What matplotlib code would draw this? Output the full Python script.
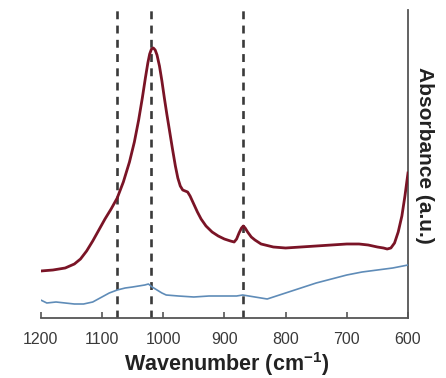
import matplotlib
matplotlib.use("Agg")
import matplotlib.pyplot as plt

plt.rcParams['font.family'] = ['Liberation Sans', 'DejaVu Sans']
plt.rcParams['mathtext.fontset'] = 'custom'
plt.rcParams['mathtext.rm'] = 'Liberation Sans:bold'
plt.rcParams['mathtext.bf'] = 'Liberation Sans:bold'
plt.rcParams['mathtext.default'] = 'bf'

# Sample spectrum (upper, red) - absorbance in arbitrary units
red_wn = [1200, 1180, 1160, 1145, 1135, 1125, 1115, 1105, 1095, 1085, 1075,
          1065, 1055, 1047, 1040, 1034, 1029, 1025, 1022, 1019, 1016, 1013,
          1010, 1006, 1002, 998, 994, 990, 985, 980, 976, 972, 968, 964,
          960, 956, 950, 944, 938, 930, 920, 910, 900, 890, 884,
          880, 876, 872, 869, 866, 862, 856, 850, 840, 820, 800, 775, 750,
          725, 700, 680, 665, 650, 640, 634, 628, 622, 616, 610, 605, 602, 600]
red_abs = [47, 48, 50, 54, 59, 67, 77, 88, 99, 109, 120,
           136, 156, 176, 198, 220, 240, 255, 264, 269, 270, 268,
           263, 252, 237, 220, 204, 189, 170, 152, 140, 132, 128, 127,
           126, 122, 114, 106, 99, 92, 86, 82, 79, 77, 76,
           79, 85, 90, 92, 90, 86, 81, 78, 74, 71, 70, 71, 72,
           73, 74, 74, 73, 71, 70, 69, 70, 75, 86, 102, 122, 136, 145]

# Reference spectrum (lower, blue)
blue_wn = [1200, 1190, 1175, 1160, 1145, 1130, 1115, 1100, 1088, 1075, 1062,
           1050, 1040, 1030, 1024, 1018, 1010, 1002, 995, 975, 950, 925, 900,
           880, 870, 860, 850, 840, 830, 815, 800, 775, 750, 725, 700,
           675, 650, 625, 600]
blue_abs = [18, 15, 16, 15, 14, 14, 16, 21, 25, 28, 30,
            31, 32, 33, 34, 31, 28, 25, 23, 22, 21, 22, 22,
            22, 23, 22, 21, 20, 19, 22, 25, 30, 35, 39, 43,
            46, 48, 50, 53]

# Marked band positions (cm-1)
band_lines = [1075, 1020, 869]

fig = plt.figure(figsize=(4.46, 3.78), dpi=100)
ax = fig.add_axes([40.7 / 446, 60 / 378, 367.3 / 446, 308 / 378])

ax.plot(red_wn, red_abs, color='#7a1426', lw=2.0, zorder=3,
        solid_joinstyle='round')
ax.plot(blue_wn, blue_abs, color='#5f8cb8', lw=1.2, zorder=3)

for wn in band_lines:
    ax.axvline(wn, color='#3a3a3a', lw=1.9, linestyle=(0, (3.0, 2.4)), zorder=2)

ax.set_xlim(1200, 600)
ax.set_ylim(0, 308)
ax.set_xticks([1200, 1100, 1000, 900, 800, 700, 600])
ax.set_yticks([])

for side in ['left', 'top']:
    ax.spines[side].set_visible(False)
for side in ['right', 'bottom']:
    ax.spines[side].set_color('#555555')
    ax.spines[side].set_linewidth(1.3)

ax.tick_params(axis='x', direction='in', length=4, width=1.2, color='#555555',
               labelsize=11.5, labelcolor='#3a3a3a', pad=10)

ax.set_xlabel(r'Wavenumber (cm$^{-1}$)', fontsize=15.5, fontweight='bold',
              color='#222222', va='center')
ax.xaxis.set_label_coords(0.506, -0.149)

ax.yaxis.set_label_position('right')
ax.set_ylabel('Absorbance (a.u.)', fontsize=15, fontweight='bold',
              color='#222222', rotation=270, va='center')
ax.yaxis.set_label_coords(1.046, 0.529)

fig.savefig('out.png', dpi=100)
